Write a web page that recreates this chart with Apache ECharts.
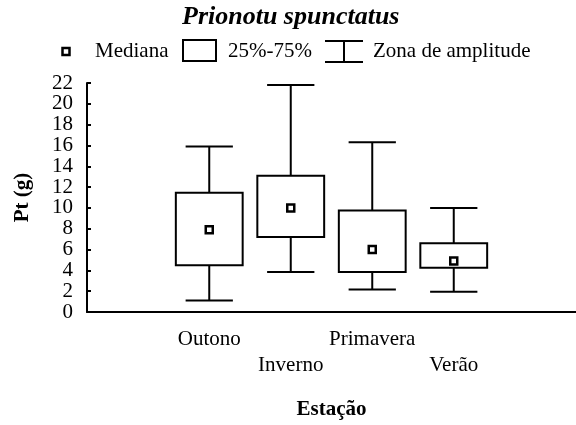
<!DOCTYPE html>
<html>
<head>
  <meta charset="utf-8">
  <script src="https://cdn.jsdelivr.net/npm/echarts@6/dist/echarts.min.js"></script>
  <style>
    html, body { margin: 0; padding: 0; background: #fff; }
    #main { width: 576px; height: 425px; }
  </style>
</head>
<body>
<div id="main"></div>
<script>
// estações e estatísticas
var estacoes = ['Outono', 'Inverno', 'Primavera', 'Verão'];
var minimos = [1.1, 3.85, 2.15, 1.95];
var q1 = [4.5, 7.2, 3.85, 4.25];
var medianas = [7.9, 10.0, 6.0, 4.9];
var q3 = [11.45, 13.1, 9.75, 6.6];
var maximos = [15.9, 21.8, 16.3, 10.0];

var fonte = 'Liberation Serif';
var tam = 21;

// eixo com uma categoria vazia em cada ponta
var eixoX = [''].concat(estacoes).concat(['']);

var caixas = [];
var pontosMediana = [];
for (var i = 0; i < estacoes.length; i++) {
  caixas.push([i + 1, minimos[i], q1[i], q3[i], maximos[i]]);
  pontosMediana.push([i + 1, medianas[i]]);
}

function desenhaCaixa(params, api) {
  var x = api.value(0);
  var pMin = api.coord([x, api.value(1)]);
  var pQ1 = api.coord([x, api.value(2)]);
  var pQ3 = api.coord([x, api.value(3)]);
  var pMax = api.coord([x, api.value(4)]);
  var banda = api.size([1, 0])[0];
  var meiaCaixa = banda * 0.41;
  var meioTraco = banda * 0.29;
  var cx = pMin[0];
  var estilo = { stroke: '#000', lineWidth: 2, fill: null };
  return {
    type: 'group',
    children: [
      { type: 'line', shape: { x1: cx, y1: pMax[1], x2: cx, y2: pQ3[1] }, style: estilo },
      { type: 'line', shape: { x1: cx, y1: pQ1[1], x2: cx, y2: pMin[1] }, style: estilo },
      { type: 'line', shape: { x1: cx - meioTraco, y1: pMax[1], x2: cx + meioTraco, y2: pMax[1] }, style: estilo },
      { type: 'line', shape: { x1: cx - meioTraco, y1: pMin[1], x2: cx + meioTraco, y2: pMin[1] }, style: estilo },
      { type: 'rect', shape: { x: cx - meiaCaixa, y: pQ3[1], width: meiaCaixa * 2, height: pQ1[1] - pQ3[1] },
        style: { stroke: '#000', lineWidth: 2, fill: '#fff' } }
    ]
  };
}

var fonteLegenda = tam + 'px "Liberation Serif"';

var grafico = echarts.init(document.getElementById('main'));
grafico.setOption({
  animation: false,
  backgroundColor: '#fff',
  textStyle: { fontFamily: fonte, color: '#000' },
  title: {
    text: 'Prionotu spunctatus',
    left: 182, top: 4, padding: 0,
    textStyle: { fontFamily: fonte, fontSize: 26, fontStyle: 'italic', fontWeight: 'bold', color: '#000' }
  },
  graphic: [
    { type: 'rect', shape: { x: 62.5, y: 48, width: 7, height: 7 }, style: { stroke: '#000', lineWidth: 2.5, fill: '#fff' } },
    { type: 'text', left: 95, top: 41, style: { text: 'Mediana', font: fonteLegenda, fill: '#000' } },
    { type: 'rect', shape: { x: 183, y: 40, width: 33, height: 21 }, style: { stroke: '#000', lineWidth: 2, fill: '#fff' } },
    { type: 'text', left: 228, top: 41, style: { text: '25%-75%', font: fonteLegenda, fill: '#000' } },
    { type: 'line', shape: { x1: 325, y1: 41, x2: 363, y2: 41 }, style: { stroke: '#000', lineWidth: 2 } },
    { type: 'line', shape: { x1: 344, y1: 41, x2: 344, y2: 62 }, style: { stroke: '#000', lineWidth: 2 } },
    { type: 'line', shape: { x1: 325, y1: 62, x2: 363, y2: 62 }, style: { stroke: '#000', lineWidth: 2 } },
    { type: 'text', left: 373, top: 41, style: { text: 'Zona de amplitude', font: fonteLegenda, fill: '#000' } }
  ],
  grid: { left: 87, right: -3, top: 83, bottom: 112, containLabel: false },
  xAxis: {
    type: 'category',
    data: eixoX,
    boundaryGap: true,
    name: 'Estação',
    nameLocation: 'middle',
    nameGap: 87,
    nameTextStyle: { fontFamily: fonte, fontSize: tam, fontWeight: 'bold', color: '#000' },
    axisLine: { lineStyle: { color: '#000', width: 2 } },
    axisTick: { inside: true, length: 5, alignWithLabel: true, interval: 0, lineStyle: { color: '#000', width: 2 } },
    axisLabel: {
      interval: 0, margin: 14, fontFamily: fonte, fontSize: tam, lineHeight: 26, color: '#000',
      formatter: function (v, i) {
        if (!v) return '';
        return i % 2 === 1 ? v : '\n' + v;
      }
    },
    splitLine: { show: false }
  },
  yAxis: {
    type: 'value',
    min: 0, max: 22, interval: 2,
    name: 'Pt (g)',
    nameLocation: 'middle',
    nameGap: 54,
    nameTextStyle: { fontFamily: fonte, fontSize: tam, fontWeight: 'bold', color: '#000' },
    axisLine: { show: true, lineStyle: { color: '#000', width: 2 } },
    axisTick: { show: true, inside: true, length: 4, lineStyle: { color: '#000', width: 2 } },
    axisLabel: { margin: 14, fontFamily: fonte, fontSize: tam, color: '#000' },
    splitLine: { show: false }
  },
  series: [
    {
      name: '25%-75%',
      type: 'custom',
      renderItem: desenhaCaixa,
      data: caixas,
      encode: { x: 0, y: [1, 2, 3, 4] },
      z: 2
    },
    {
      name: 'Mediana',
      type: 'scatter',
      data: pontosMediana,
      symbol: 'rect',
      symbolSize: 7,
      itemStyle: { color: '#fff', borderColor: '#000', borderWidth: 2.5, opacity: 1 },
      z: 3
    }
  ]
});
</script>
</body>
</html>
